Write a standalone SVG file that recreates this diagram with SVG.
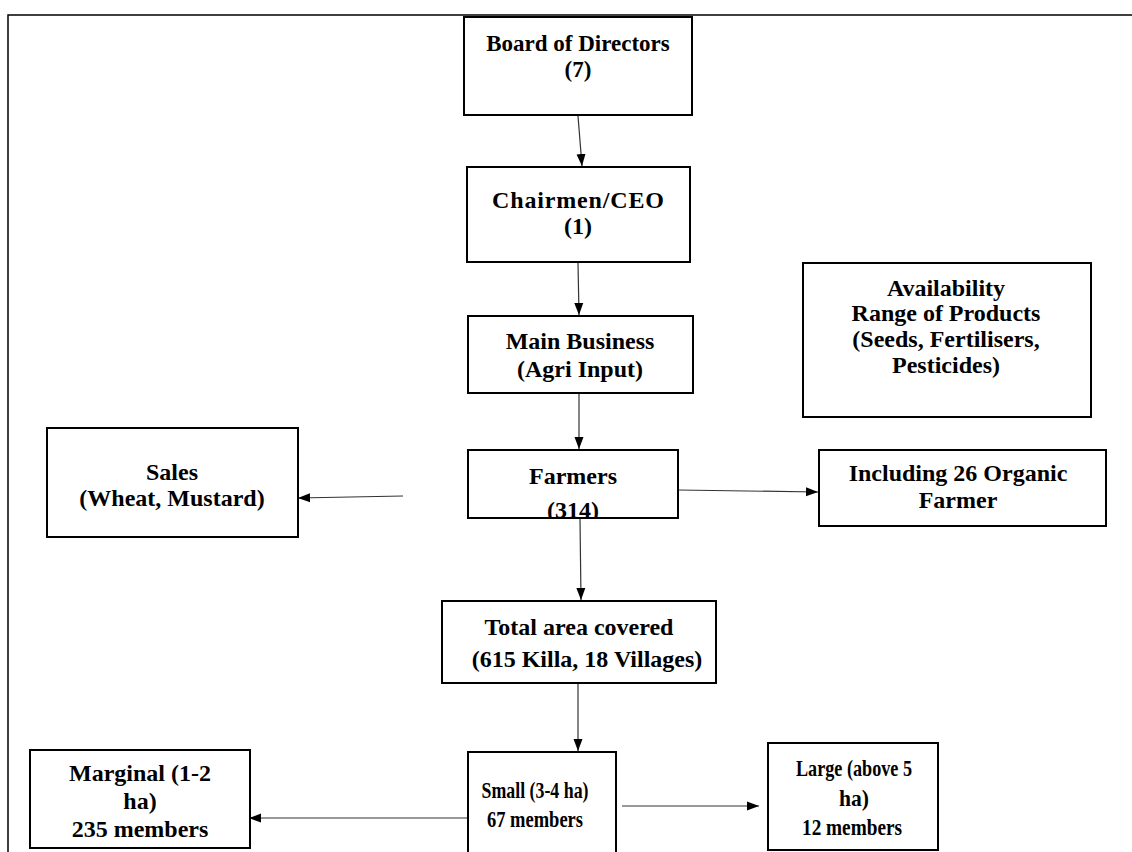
<svg xmlns="http://www.w3.org/2000/svg" width="1132" height="852" viewBox="0 0 1132 852">
  <style>
    .box { fill: #ffffff; stroke: #000000; stroke-width: 2; }
    .lbl { font-family: "Liberation Serif", "Times New Roman", serif; font-weight: bold; font-size: 24px; fill: #000000; text-anchor: middle; }
    .cond { font-size: 24px; }
    .edge { fill: none; stroke: #333333; stroke-width: 1.2; marker-end: url(#arrow); }
    .frame { fill: none; stroke: #000000; stroke-width: 1.5; }
  </style>
  <defs>
    <marker id="arrow" markerUnits="userSpaceOnUse" markerWidth="12" markerHeight="12" viewBox="0 0 12 12" refX="12" refY="6" orient="auto">
      <path d="M0,1.5 L12,6 L0,10.5 Z" fill="#000000"/>
    </marker>
    <clipPath id="clipFarmers">
      <rect x="469" y="451" width="208" height="66"/>
    </clipPath>
  </defs>

  <rect width="1132" height="852" fill="#ffffff"/>

  <!-- page frame -->
  <path class="frame" d="M8,852 L8,15 L1132,15"/>

  <!-- connectors -->
  <g id="connectors">
    <line class="edge" x1="578" y1="116" x2="582" y2="166"/>
    <line class="edge" x1="578" y1="263" x2="579" y2="315"/>
    <line class="edge" x1="579" y1="394" x2="579" y2="449"/>
    <line class="edge" x1="678" y1="490" x2="818" y2="492"/>
    <line class="edge" x1="403" y1="496" x2="298" y2="498"/>
    <line class="edge" x1="580" y1="519" x2="581" y2="600"/>
    <line class="edge" x1="578" y1="684" x2="578" y2="751"/>
    <line class="edge" x1="468" y1="818" x2="249" y2="818"/>
    <line class="edge" x1="622" y1="806" x2="759" y2="806"/>
  </g>

  <g id="board">
    <rect class="box" x="464" y="17" width="228" height="98"/>
    <text class="lbl" x="578" y="51" style="font-size:23px">Board of Directors</text>
    <text class="lbl" x="578" y="77" style="font-size:23px">(7)</text>
  </g>

  <g id="chairmen">
    <rect class="box" x="467" y="167" width="223" height="95"/>
    <text class="lbl" x="578" y="208" textLength="172" lengthAdjust="spacing">Chairmen/CEO</text>
    <text class="lbl" x="578" y="234">(1)</text>
  </g>

  <g id="main-business">
    <rect class="box" x="468" y="316" width="225" height="77"/>
    <text class="lbl" x="580" y="349">Main Business</text>
    <text class="lbl" x="580" y="377">(Agri Input)</text>
  </g>

  <g id="farmers">
    <rect class="box" x="468" y="450" width="210" height="68"/>
    <g clip-path="url(#clipFarmers)">
      <text class="lbl" x="573" y="484">Farmers</text>
      <text class="lbl" x="573" y="518">(314)</text>
    </g>
  </g>

  <g id="availability">
    <rect class="box" x="803" y="263" width="288" height="154"/>
    <text class="lbl" x="946" y="296">Availability</text>
    <text class="lbl" x="946" y="321">Range of Products</text>
    <text class="lbl" x="946" y="347">(Seeds, Fertilisers,</text>
    <text class="lbl" x="946" y="373">Pesticides)</text>
  </g>

  <g id="organic">
    <rect class="box" x="819" y="450" width="287" height="76"/>
    <text class="lbl" x="958" y="481">Including 26 Organic</text>
    <text class="lbl" x="958" y="508">Farmer</text>
  </g>

  <g id="sales">
    <rect class="box" x="47" y="428" width="251" height="109"/>
    <text class="lbl" x="172" y="480">Sales</text>
    <text class="lbl" x="172" y="506">(Wheat, Mustard)</text>
  </g>

  <g id="total-area">
    <rect class="box" x="442" y="601" width="274" height="82"/>
    <text class="lbl" x="579" y="635">Total area covered</text>
    <text class="lbl" x="587" y="667">(615 Killa, 18 Villages)</text>
  </g>

  <g id="marginal">
    <rect class="box" x="30" y="750" width="220" height="98"/>
    <text class="lbl" x="140" y="781">Marginal (1-2</text>
    <text class="lbl" x="140" y="809">ha)</text>
    <text class="lbl" x="140" y="837">235 members</text>
  </g>

  <g id="small">
    <rect class="box" x="468" y="752" width="148" height="110"/>
    <text class="lbl cond" x="535" y="798" textLength="107" lengthAdjust="spacingAndGlyphs">Small (3-4 ha)</text>
    <text class="lbl cond" x="535" y="827" textLength="96" lengthAdjust="spacingAndGlyphs">67 members</text>
  </g>

  <g id="large">
    <rect class="box" x="768" y="743" width="170" height="107"/>
    <text class="lbl cond" x="854" y="776" textLength="116" lengthAdjust="spacingAndGlyphs">Large (above 5</text>
    <text class="lbl cond" x="854" y="806" textLength="30" lengthAdjust="spacingAndGlyphs">ha)</text>
    <text class="lbl cond" x="852" y="835" textLength="100" lengthAdjust="spacingAndGlyphs">12 members</text>
  </g>
</svg>
